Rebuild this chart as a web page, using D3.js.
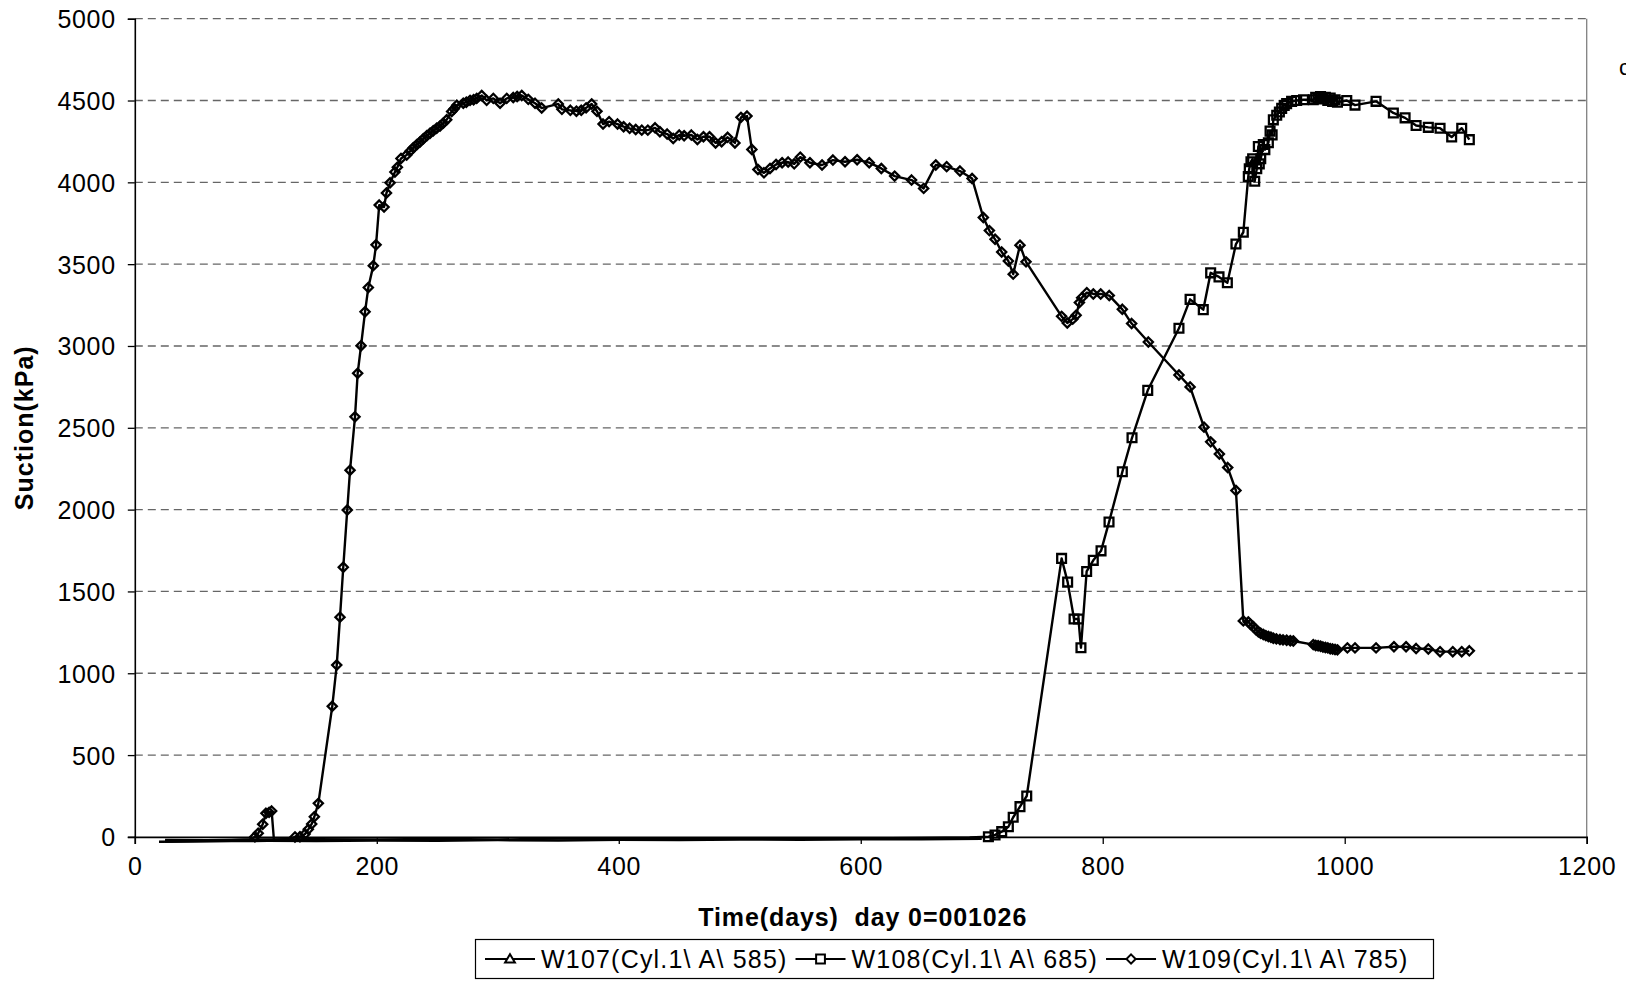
<!DOCTYPE html>
<html>
<head>
<meta charset="utf-8">
<script src="https://cdn.jsdelivr.net/npm/d3@7/dist/d3.min.js"></script>
<style>
  html, body { margin: 0; padding: 0; background: #ffffff; }
  svg { display: block; }
  text { font-family: "Liberation Sans", Arial, sans-serif; fill: #000; white-space: pre; }
</style>
</head>
<body>
<svg id="chart" width="1626" height="982"></svg>
<script>
// ---------------- data ----------------
const seriesNames = ["W107(Cyl.1\\ A\\ 585)", "W108(Cyl.1\\ A\\ 685)", "W109(Cyl.1\\ A\\ 785)"];
const xTicks = [0, 200, 400, 600, 800, 1000, 1200];
const yTicks = [0, 500, 1000, 1500, 2000, 2500, 3000, 3500, 4000, 4500, 5000];
const xTitle = "Time(days)  day 0=001026";
const yTitle = "Suction(kPa)";

// [day, suction kPa]
const w107 = [[20,-30],[50,-28],[80,-26],[110,-24],[150,-25],[200,-22],[250,-24],[300,-20],[350,-22],
  [400,-18],[450,-20],[500,-16],[550,-18],[600,-14],[650,-15],[700,-12]];

const w108 = [[25,-18],[60,-20],[100,-16],[150,-14],[200,-15],[250,-12],[300,-16],[350,-10],[400,-12],
  [450,-9],[500,-10],[550,-8],[600,-10],[650,-6],[690,-4],
  [705.5,1],[711,12],[716.5,32],[722,62],[726,120],[731.6,185],[737.2,250],[766,1702],[771,1557],
  [776.3,1332],[779.9,1332],[782,1156],[786.7,1622],[792.2,1690],[798.6,1748],[805.2,1924],[816.2,2231],
  [824.2,2439],[837.2,2729],[863,3108],[872.2,3285],[883.1,3222],[889.2,3447],[896.1,3422],[903,3386],
  [910.1,3623],[916.2,3695],[920.3,4036],[921.1,4083],[922.5,4126],[923.9,4144],[925.6,4007],[927.3,4083],
  [928.6,4219],[929.4,4113],[930.6,4144],[932.7,4231],[934,4200],[936.9,4242],[938.3,4313],[940,4290],
  [941,4382],[943.8,4410],[946,4430],[947.9,4452],[950,4470],[952,4481],[956.1,4495],[960.3,4500],
  [966,4505],[974,4505],[976,4520],[978,4515],[980,4525],[982,4510],[984,4520],[986,4500],[988,4515],
  [990,4495],[992,4505],[994,4490],[1001.7,4500],[1008.5,4472],[1025.9,4495],[1040.2,4424],[1049.9,4394],
  [1059,4347],[1069.1,4336],[1078.8,4331],[1088.4,4277],[1096.7,4331],[1103,4261]];

const w109 = [[25,-28],[40,-25],[60,-22],[80,-20],[95,-15],
  [99.3,1],[102,22],[105.7,77],[108.4,144],[111,150],[113.1,158],[115,-19],[120,-15],[128,-12],
  [132.4,0],[136.5,1],[140.7,18],[143.4,46],[146.2,79],[148.4,123],[151.7,205],[163.2,798],[166.9,1050],
  [169.6,1343],[172.3,1648],[175.6,1998],[177.9,2241],[182,2567],[184.2,2833],[187,3002],[190.3,3209],
  [193,3357],[197.1,3491],[199.4,3618],[202,3861],[206,3849],[208,3935],[211,3997],[215,4063],[217,4092],
  [220,4146],[224.7,4167],[227.5,4190],[230.2,4211],[233,4230],[235.7,4247],[238.5,4266],[241.3,4285],
  [244,4300],[246.7,4315],[249.5,4330],[252.3,4344],[255,4362],[257.8,4383],[261.9,4433],[264,4450],
  [266.1,4471],[271.5,4483],[274,4490],[277.1,4501],[280,4505],[282.6,4513],[286.7,4531],[290.8,4501],
  [296.3,4513],[301.9,4483],[307.4,4513],[312.8,4518],[316,4525],[319.8,4531],[325.2,4507],[330.8,4483],
  [336.3,4454],[350,4479],[353,4446],[360,4440],[365,4435],[369,4440],[373,4455],[377.6,4479],[382,4434],
  [387,4356],[392,4371],[399,4356],[404,4340],[409,4330],[414,4323],[419,4319],[424,4319],[430,4333],
  [434,4309],[440,4295],[445,4268],[450,4289],[454,4285],[460,4289],[465,4262],[470,4279],[475,4279],
  [480,4241],[485,4248],[490,4275],[496,4241],[501,4397],[506,4405],[510,4201],[515,4079],[520,4058],
  [525,4085],[530,4109],[535,4120],[540,4124],[545,4113],[550,4154],[558,4120],[568,4106],[577,4136],
  [587,4126],[597,4138],[607,4120],[617,4085],[628,4038],[642,4014],[652,3963],[662,4106],[671,4096],
  [682,4069],[692,4024],[701.3,3785],[706.3,3705],[711,3652],[716.5,3574],[722,3519],[726,3439],
  [731.6,3616],[736.6,3514],[766,3181],[770.7,3140],[775.2,3164],[778,3188],[780.7,3265],[782.6,3294],
  [786.8,3326],[792.2,3318],[798.3,3318],[805.4,3308],[816.2,3224],[823.9,3137],[837.7,3024],[863,2823],
  [872.2,2750],[883.7,2504],[889.2,2414],[896.4,2340],[903.3,2257],[910.1,2117],[916.2,1320],[920.3,1314],
  [922,1300],[924.5,1284],[926.5,1268],[928.6,1253],[930.5,1245],[932.7,1237],[934.8,1230],[936.9,1225],
  [939,1220],[941,1214],[943.5,1210],[946.5,1206],[949,1204],[952,1202],[955,1199],[957.5,1197],
  [974,1175],[976,1170],[978,1168],[980,1165],[982,1160],[984,1158],[986,1155],[988,1150],[990,1148],
  [992,1145],[994,1143],[1002.2,1155],[1008.5,1155],[1025.9,1155],[1040.7,1162],[1050.7,1162],
  [1059,1151],[1069.1,1148],[1078.8,1132],[1089.3,1132],[1096.7,1132],[1103,1137]];

const series = [w107, w108, w109];
const markerTypes = ["triangle", "square", "diamond"];

// ---------------- layout ----------------
const svg = d3.select("#chart");
const plot = { left: 134.8, right: 1586.7, top: 18.7, bottom: 836.9 };
const x = d3.scaleLinear().domain([0, 1200]).range([plot.left, plot.right]);
const y = d3.scaleLinear().domain([0, 5000]).range([plot.bottom, plot.top]);
const FONT = 25;

// gridlines
svg.append("g").selectAll("line").data(yTicks.filter(d => d > 0)).join("line")
  .attr("x1", plot.left).attr("x2", plot.right)
  .attr("y1", d => y(d)).attr("y2", d => y(d))
  .attr("stroke", "#666").attr("stroke-width", 1.3).attr("stroke-dasharray", "8,5");

// right border
svg.append("line").attr("x1", plot.right).attr("x2", plot.right)
  .attr("y1", plot.top).attr("y2", plot.bottom)
  .attr("stroke", "#808080").attr("stroke-width", 1.3);

// axes
const yAxis = d3.axisLeft(y).tickValues(yTicks).tickSize(7).tickPadding(12).tickFormat(d3.format("d"));
const xAxis = d3.axisBottom(x).tickValues(xTicks).tickSize(7).tickPadding(13).tickFormat(d3.format("d"));
const gy = svg.append("g").attr("transform", `translate(${plot.left},0)`).call(yAxis);
const gx = svg.append("g").attr("transform", `translate(0,${plot.bottom})`).call(xAxis);
[gx, gy].forEach(g => {
  g.select(".domain").attr("stroke", "#000").attr("stroke-width", 1.6);
  g.selectAll(".tick line").attr("stroke", "#000").attr("stroke-width", 1.3);
  g.selectAll(".tick text").attr("font-size", FONT).attr("font-family", "Liberation Sans, Arial, sans-serif")
    .attr("letter-spacing", "0.7px").attr("fill", "#000");
});
gy.selectAll(".tick text").attr("dy", "0.36em");

// axis titles
svg.append("text").attr("x", (plot.left + plot.right) / 2 + 2).attr("y", 926)
  .attr("text-anchor", "middle").attr("font-size", FONT).attr("font-weight", "bold")
  .attr("letter-spacing", "0.9px").text(xTitle);
svg.append("text").attr("transform", `translate(33,${(plot.top + plot.bottom) / 2}) rotate(-90)`)
  .attr("text-anchor", "middle").attr("font-size", FONT).attr("font-weight", "bold")
  .attr("letter-spacing", "1px").text(yTitle);

// marker shapes
function markerPath(type) {
  if (type === "triangle") return "M0,-4.8L4.9,3.4L-4.9,3.4Z";
  if (type === "square") return "M-4.4,-4.4H4.4V4.4H-4.4Z";
  return "M0,-4.6L4.6,0L0,4.6L-4.6,0Z";
}

// series
const line = d3.line().x(d => x(d[0])).y(d => y(d[1]));
svg.append("defs").append("clipPath").attr("id", "clip")
  .append("rect").attr("x", plot.left - 10).attr("y", plot.top - 10)
  .attr("width", plot.right - plot.left + 20).attr("height", plot.bottom - plot.top + 20);

series.forEach((data, i) => {
  const g = svg.append("g").attr("clip-path", "url(#clip)");
  g.append("path").datum(data).attr("d", line)
    .attr("fill", "none").attr("stroke", "#000").attr("stroke-width", 2.4).attr("stroke-linejoin", "round");
  g.selectAll("path.m").data(data.filter(d => d[1] >= 0)).join("path").attr("class", "m")
    .attr("transform", d => `translate(${x(d[0])},${y(d[1])})`)
    .attr("d", markerPath(markerTypes[i]))
    .attr("fill", "none").attr("stroke", "#000").attr("stroke-width", 2.3);
});

// legend
const lg = svg.append("g");
lg.append("rect").attr("x", 475.5).attr("y", 939.5).attr("width", 958).attr("height", 39)
  .attr("fill", "#fff").attr("stroke", "#000").attr("stroke-width", 1.2);
let cx = 485;
const ly = 959;
seriesNames.forEach((name, i) => {
  lg.append("line").attr("x1", cx).attr("x2", cx + 50).attr("y1", ly).attr("y2", ly)
    .attr("stroke", "#000").attr("stroke-width", 2.2);
  lg.append("path").attr("transform", `translate(${cx + 25},${ly})`).attr("d", markerPath(markerTypes[i]))
    .attr("fill", "#fff").attr("stroke", "#000").attr("stroke-width", 2);
  const t = lg.append("text").attr("x", cx + 56).attr("y", 968).attr("font-size", FONT)
    .attr("letter-spacing", "1.2px").text(name);
  cx += 56 + t.node().getComputedTextLength() + 8;
});

// label partly outside the right edge, as in the reference
svg.append("text").attr("x", 1619).attr("y", 75).attr("font-size", 22).text("c");
</script>
</body>
</html>
